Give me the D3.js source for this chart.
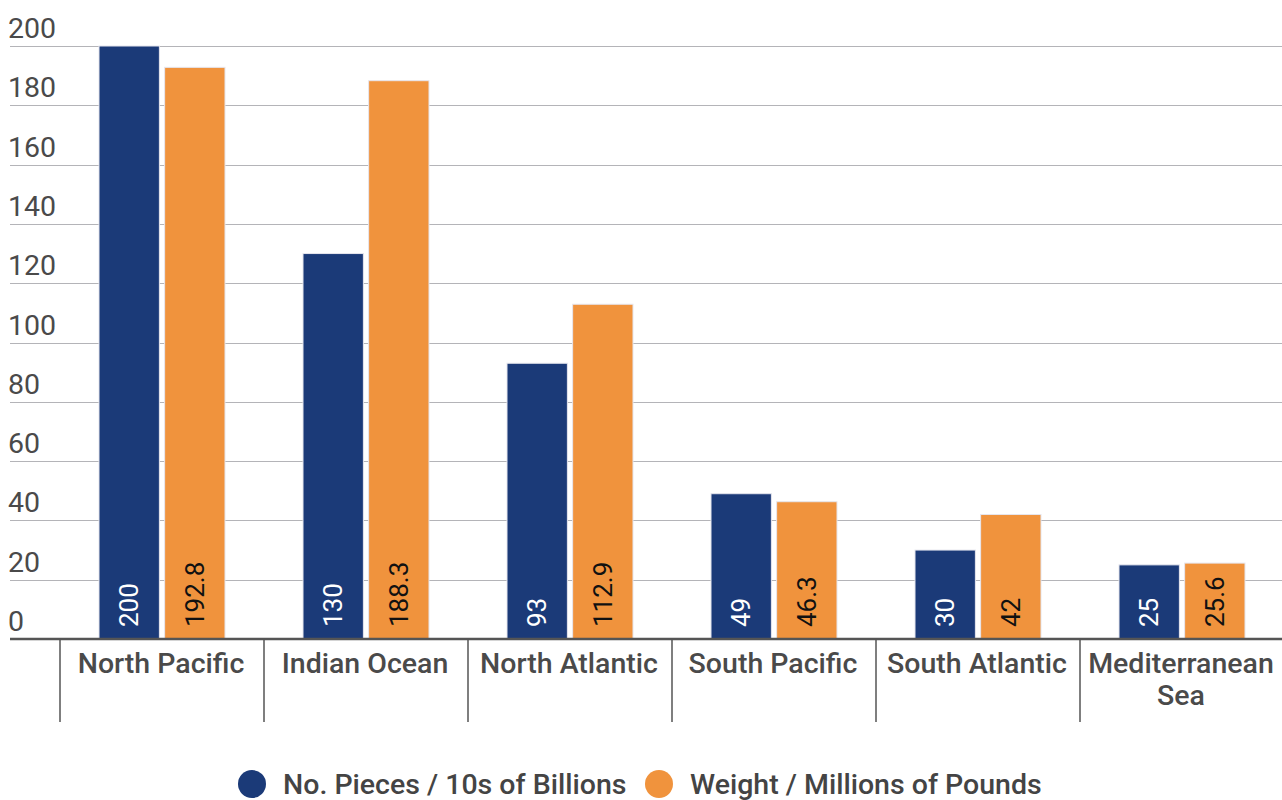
<!DOCTYPE html>
<meta charset="utf-8">
<style>
body { margin: 0; background: #fff; }
text { font-family: Roboto, "Noto Sans", sans-serif; }
.grid line { stroke: #b4b4b8; stroke-width: 1.3px; shape-rendering: crispEdges; }
.tick-label { font-size: 28.5px; fill: #4a4a4a; }
.cat-label { font-size: 28.5px; font-weight: 500; fill: #4a4a4a; }
.val { font-size: 26px; }
.legend text { font-size: 28.5px; font-weight: 500; fill: #444; }
</style>
<body>
<div id="chart"></div>
<script src="https://cdnjs.cloudflare.com/ajax/libs/d3/7.8.5/d3.min.js"></script>
<script>
var categories = ["North Pacific", "Indian Ocean", "North Atlantic", "South Pacific", "South Atlantic", "Mediterranean Sea"];
var pieces = [200, 130, 93, 49, 30, 25];
var weight = [192.8, 188.3, 112.9, 46.3, 42, 25.6];
var seriesNames = ["No. Pieces / 10s of Billions", "Weight / Millions of Pounds"];
var yTicks = [0, 20, 40, 60, 80, 100, 120, 140, 160, 180, 200];

var colors = ["#1b3a78", "#f0933d"];
var width = 1282, height = 800;

var svg = d3.select("#chart").append("svg")
    .attr("width", width)
    .attr("height", height);

var y = d3.scaleLinear().domain([0, 200]).range([639, 46]);
var x0 = d3.scaleBand().domain(categories).range([60, 1284]).padding(0);
var x1 = d3.scaleBand().domain([0, 1]).range([39, 165]).paddingInner(0.08);

// gridlines
var grid = svg.append("g").attr("class", "grid");
grid.selectAll("line")
    .data(yTicks.filter(function(d) { return d > 0; }))
    .enter().append("line")
    .attr("x1", 10).attr("x2", width)
    .attr("y1", function(d) { return Math.round(y(d)) + 0.5; })
    .attr("y2", function(d) { return Math.round(y(d)) + 0.5; });

svg.append("g").selectAll("text")
    .data(yTicks)
    .enter().append("text")
    .attr("class", "tick-label")
    .attr("x", 8)
    .attr("y", function(d) { return y(d) - 8; })
    .text(function(d) { return d; });

// bars
var groups = svg.append("g").selectAll("g")
    .data(categories)
    .enter().append("g")
    .attr("transform", function(d) { return "translate(" + x0(d) + ",0)"; });

groups.selectAll("rect")
    .data(function(d, i) { return [pieces[i], weight[i]]; })
    .enter().append("rect")
    .attr("x", function(d, j) { return x1(j); })
    .attr("y", function(d) { return y(d); })
    .attr("width", x1.bandwidth())
    .attr("height", function(d) { return y(0) - y(d); })
    .attr("fill", function(d, j) { return colors[j]; })
    .attr("stroke", "#e6e6ee")
    .attr("stroke-width", 1);

groups.selectAll("text.val")
    .data(function(d, i) { return [pieces[i], weight[i]]; })
    .enter().append("text")
    .attr("class", "val")
    .attr("transform", function(d, j) {
        return "translate(" + (x1(j) + x1.bandwidth() / 2 + 9) + "," + (y(0) - 12) + ") rotate(-90)";
    })
    .attr("fill", function(d, j) { return j === 0 ? "#fff" : "#111"; })
    .text(function(d) { return d; });

// axis baseline
svg.append("line")
    .attr("x1", 10).attr("x2", width)
    .attr("y1", 639).attr("y2", 639)
    .attr("stroke", "#555").attr("stroke-width", 2.5);

// category separators
svg.append("g").selectAll("line")
    .data(categories)
    .enter().append("line")
    .attr("x1", function(d) { return x0(d); })
    .attr("x2", function(d) { return x0(d); })
    .attr("y1", 639).attr("y2", 722)
    .attr("stroke", "#555").attr("stroke-width", 1.5);

// category labels
svg.append("g").selectAll("text")
    .data(categories)
    .enter().append("text")
    .attr("class", "cat-label")
    .attr("text-anchor", "middle")
    .attr("x", function(d) { return x0(d) + x0.bandwidth() / 2 - 1; })
    .attr("y", 673)
    .each(function(d) {
        var t = d3.select(this);
        var words = d === "Mediterranean Sea" ? ["Mediterranean", "Sea"] : [d];
        words.forEach(function(w, k) {
            t.append("tspan")
                .attr("x", t.attr("x"))
                .attr("dy", k === 0 ? 0 : 32)
                .text(w);
        });
    });

// legend
var legend = svg.append("g").attr("class", "legend");
var lx = [252, 659];
seriesNames.forEach(function(name, i) {
    legend.append("circle")
        .attr("cx", lx[i]).attr("cy", 784).attr("r", 14)
        .attr("fill", colors[i]);
    legend.append("text")
        .attr("x", lx[i] + 31).attr("y", 794)
        .text(name);
});
</script>
